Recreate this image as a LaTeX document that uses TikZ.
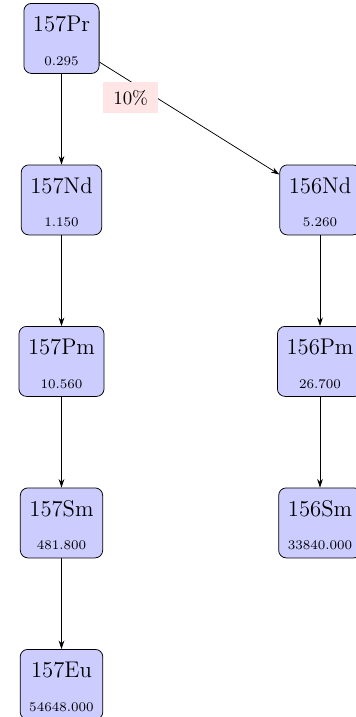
\documentclass[tikz,border=0pt]{standalone}
\usetikzlibrary{arrows.meta}
\begin{document}
\begin{tikzpicture}[x=0.529pt, y=-0.529pt,
  nuclide/.style={draw, fill=blue!20, rounded corners=4pt, align=center,
    font=\large, inner xsep=4.8pt, inner ysep=4.1pt},
  branch/.style={fill=red!10, inner xsep=5.2pt, inner ysep=4.2pt, font=\normalsize},
  decay/.style={-{Stealth[length=4.5pt,width=3pt]}}]
\useasboundingbox (0,0) rectangle (356,717);
% nuclide name on top, half-life value below
\newcommand\nuclab[2]{\rule{0pt}{11pt}#1\\[3.7pt]{\scriptsize #2}}

% 157 chain
\node[nuclide] (pr7) at (61.5,38.4)  {\nuclab{157Pr}{0.295}};
\node[nuclide] (nd7) at (61.5,199.9) {\nuclab{157Nd}{1.150}};
\node[nuclide] (pm7) at (61.5,361.4) {\nuclab{157Pm}{10.560}};
\node[nuclide] (sm7) at (61.5,522.9) {\nuclab{157Sm}{481.800}};
\node[nuclide] (eu7) at (61.5,684.4) {\nuclab{157Eu}{54648.000}};

% 156 chain
\node[nuclide] (nd6) at (320,199.9) {\nuclab{156Nd}{5.260}};
\node[nuclide] (pm6) at (320,361.4) {\nuclab{156Pm}{26.700}};
\node[nuclide] (sm6) at (320,522.9) {\nuclab{156Sm}{33840.000}};

% decays
\draw[decay] (pr7) -- (nd7);
\draw[decay] (nd7) -- (pm7);
\draw[decay] (pm7) -- (sm7);
\draw[decay] (sm7) -- (eu7);
\draw[decay] (pr7) -- node[branch, pos=0.214, xshift=-3.9pt, yshift=-6.2pt] {10\%} (nd6);
\draw[decay] (nd6) -- (pm6);
\draw[decay] (pm6) -- (sm6);
\end{tikzpicture}
\end{document}
